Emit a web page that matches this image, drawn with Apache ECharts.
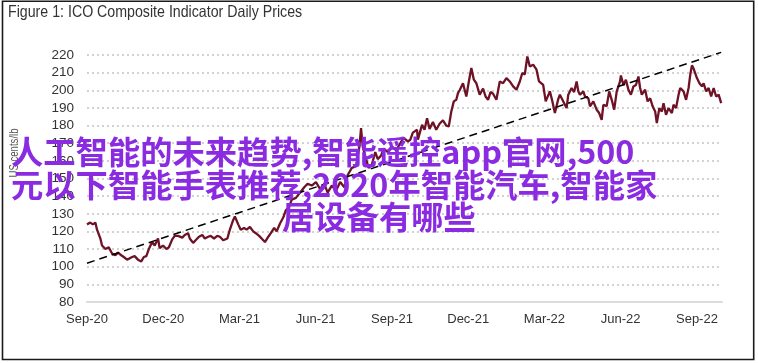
<!DOCTYPE html>
<html>
<head>
<meta charset="utf-8">
<script src="https://cdn.jsdelivr.net/npm/echarts@6/dist/echarts.min.js"></script>
<style>
html,body{margin:0;padding:0;background:#fff;}
#chart{width:758px;height:363px;}
</style>
</head>
<body>
<div id="chart"></div>
<script>
const titleText = 'Figure 1: ICO Composite Indicator Daily Prices';
const yAxisName = 'US cents/lb';
const tickLabels = ['Sep-20','Dec-20','Mar-21','Jun-21','Sep-21','Dec-21','Mar-22','Jun-22','Sep-22'];
const overlayLines = ['人工智能的未来趋势,智能遥控app官网,500','元以下智能手表推荐,2020年智能汽车,智能家','居设备有哪些'];

const dates = [
'2020-09-01','2020-09-05','2020-09-08','2020-09-11','2020-09-13','2020-09-17','2020-09-19','2020-09-23','2020-09-25','2020-09-27',
'2020-10-01','2020-10-05','2020-10-08','2020-10-12','2020-10-15','2020-10-19','2020-10-21','2020-10-25','2020-10-28',
'2020-11-01','2020-11-05','2020-11-08','2020-11-11','2020-11-14','2020-11-18','2020-11-21','2020-11-25','2020-11-27',
'2020-12-01','2020-12-05','2020-12-08','2020-12-12','2020-12-15','2020-12-19','2020-12-24','2020-12-27','2020-12-31',
'2021-01-02','2021-01-06','2021-01-09','2021-01-13','2021-01-17','2021-01-20','2021-01-24','2021-01-27','2021-01-31',
'2021-02-04','2021-02-07','2021-02-11','2021-02-16','2021-02-19','2021-02-23','2021-02-25',
'2021-03-01','2021-03-04','2021-03-08','2021-03-11','2021-03-15','2021-03-19','2021-03-22','2021-03-26','2021-03-29',
'2021-04-02','2021-04-06','2021-04-09','2021-04-13','2021-04-16','2021-04-20','2021-04-24','2021-04-27',
'2021-05-01','2021-05-04','2021-05-09','2021-05-14','2021-05-19','2021-05-23','2021-05-28',
'2021-06-02','2021-06-07','2021-06-12','2021-06-16','2021-06-21','2021-06-26',
'2021-07-01','2021-07-06','2021-07-10','2021-07-15','2021-07-20','2021-07-24','2021-07-26','2021-07-28',
'2021-08-01','2021-08-04','2021-08-08','2021-08-12','2021-08-15','2021-08-19','2021-08-22','2021-08-27',
'2021-09-01','2021-09-06','2021-09-11','2021-09-15','2021-09-20','2021-09-23','2021-09-26',
'2021-10-01','2021-10-02','2021-10-07','2021-10-10','2021-10-13','2021-10-16','2021-10-20','2021-10-24','2021-10-28',
'2021-11-01','2021-11-05','2021-11-08','2021-11-11','2021-11-14','2021-11-17','2021-11-19','2021-11-21','2021-11-25','2021-11-29',
'2021-12-02','2021-12-05','2021-12-08','2021-12-11','2021-12-15','2021-12-19','2021-12-22','2021-12-25','2021-12-28','2021-12-31',
'2022-01-04','2022-01-08','2022-01-12','2022-01-16','2022-01-20','2022-01-24','2022-01-28',
'2022-02-01','2022-02-04','2022-02-07','2022-02-10','2022-02-13','2022-02-17','2022-02-21','2022-02-24',
'2022-03-01','2022-03-04','2022-03-09','2022-03-12','2022-03-15','2022-03-19','2022-03-21','2022-03-27','2022-03-29','2022-03-31',
'2022-04-04','2022-04-07','2022-04-10','2022-04-12','2022-04-14','2022-04-18','2022-04-20','2022-04-24','2022-04-26','2022-04-30',
'2022-05-04','2022-05-07','2022-05-10','2022-05-12','2022-05-16','2022-05-19','2022-05-22','2022-05-25','2022-05-28',
'2022-06-01','2022-06-02','2022-06-05','2022-06-08','2022-06-11','2022-06-14','2022-06-17','2022-06-20','2022-06-23','2022-06-25','2022-06-27',
'2022-07-01','2022-07-04','2022-07-07','2022-07-10','2022-07-13','2022-07-15','2022-07-18','2022-07-21','2022-07-23','2022-07-26','2022-07-29',
'2022-08-02','2022-08-04','2022-08-07','2022-08-10','2022-08-12','2022-08-16','2022-08-19','2022-08-22','2022-08-24','2022-08-26','2022-08-28',
'2022-09-01','2022-09-04','2022-09-07','2022-09-09','2022-09-12','2022-09-15','2022-09-18','2022-09-21','2022-09-24','2022-09-27','2022-09-30'
];
const prices = [
124,125,124,125,121,116,112,110,109,111,
107.5,106.5,108,106.5,105.5,104,103.5,105.5,106,
104,103,105.5,106,110,114,112,116,110.5,
112,110,111,115.5,117.5,117.5,116.5,118,119,
116,113.5,115,117,118,116,117,117.5,116,
117.5,117,115,116,121,126.5,128.5,
124,121,122,121,122.5,120,119,117.5,116,
114,117,119,122,120,124.5,128,132,
134,138,139,142,145,147,146,
148,144,147,142,146,143,
148,145,152,156,157,168,178.5,168,
161,156,158,165,161,163,167,165,
168,166,170,173,171,172,176,
177.6,172,180.4,177.6,184.2,178,182,177.6,181,
183,180,179.5,188,193.7,194.6,198.4,200,204,196.5,
205,212.6,206,204,197.5,201,196.5,194.6,199,198,
194.6,205,204,206.9,205,202.2,200.3,
205,209.8,209,219.2,213.5,214.5,211.7,205,
203,193.7,199.4,193.7,187.1,195,197.5,191.8,189.9,197.5,
201.3,199,205,199.5,197.5,199.4,196.5,195.5,190.9,193.7,
189,187.1,183.3,191.8,191,199.4,194.6,189,199.4,
205,208.4,203,206,200.3,197.5,202.2,203,207.8,201.3,197.5,
200.3,193.7,195.5,190.9,188,181.4,189.9,188,192.7,186.1,189.9,
187.1,191.8,189.9,197.5,201.3,199.4,194.6,201.3,208.8,214.1,212.3,
206.9,204,202.2,204,199.4,201.3,196.5,201.3,196.5,197.5,192.7
];
const trendDates = ['2020-09-01','2022-09-30'];
const trendValues = [102, 221.5];

const startDate = '2020-09-01';
const dayOf = d => (Date.parse(d) - Date.parse(startDate)) / 86400000;
const priceData = dates.map((d, i) => [dayOf(d), prices[i]]);
const trendData = trendDates.map((d, i) => [dayOf(d), trendValues[i]]);
const Q = 91.25;

const labelFont = "'Liberation Sans',Arial,sans-serif";

const chart = echarts.init(document.getElementById('chart'), null, {renderer: 'canvas'});
chart.setOption({
  animation: false,
  backgroundColor: '#ffffff',
  grid: {left: 87, right: 36, top: 55, bottom: 61},
  xAxis: {
    type: 'value', min: 0, max: 760, interval: Q,
    axisLine: {show: true, lineStyle: {color: '#dcdcdc', width: 2}},
    axisTick: {show: false},
    splitLine: {show: false},
    axisLabel: {
      margin: 11, color: '#333', fontSize: 13, fontFamily: labelFont,
      formatter: v => { const k = Math.round(v / Q); return Math.abs(v - k * Q) < 0.01 && tickLabels[k] ? tickLabels[k] : ''; }
    }
  },
  yAxis: {
    type: 'value', min: 80, max: 220, interval: 10,
    axisLine: {show: false}, axisTick: {show: false},
    axisLabel: {margin: 13, color: '#333', fontSize: 13.5, fontFamily: labelFont},
    splitLine: {show: true, lineStyle: {color: '#c4c4c4', width: 1.5, type: [2, 3]}}
  },
  series: [
    {type: 'line', data: priceData, showSymbol: false, symbol: 'none',
     lineStyle: {color: '#6e1226', width: 2.3}, z: 3},
    {type: 'line', data: trendData, showSymbol: false, symbol: 'none', clip: false,
     lineStyle: {color: '#000', width: 1.5, type: [8, 5]}, z: 4}
  ],
  graphic: [
    {type: 'rect', shape: {x: 2.5, y: 1.3, width: 751.2, height: 358.2},
     style: {fill: 'none', stroke: '#1a1a1a', lineWidth: 1.6}, z: 100, silent: true},
    {type: 'text', x: 8, y: 12, scaleX: 0.86, z: 100,
     style: {text: titleText, fill: '#333', font: "16.5px 'Liberation Sans',Arial,sans-serif", verticalAlign: 'middle', align: 'left'}},
    {type: 'text', x: 15, y: 153, rotation: Math.PI / 2, scaleX: 0.8, z: 100,
     style: {text: yAxisName, fill: '#555', font: "12px 'Liberation Sans',Arial,sans-serif", verticalAlign: 'middle', align: 'center'}},
    {type: 'text', x: 11, y: 152, z: 200,
     style: {text: overlayLines[0], fill: '#8a2be2', font: "bold 32.3px 'Noto Sans CJK SC',sans-serif", verticalAlign: 'middle', align: 'left'}},
    {type: 'text', x: 11, y: 185, z: 200,
     style: {text: overlayLines[1], fill: '#8a2be2', font: "bold 32.3px 'Noto Sans CJK SC',sans-serif", verticalAlign: 'middle', align: 'left'}},
    {type: 'text', x: 282, y: 217, z: 200,
     style: {text: overlayLines[2], fill: '#8a2be2', font: "bold 32.3px 'Noto Sans CJK SC',sans-serif", verticalAlign: 'middle', align: 'left'}}
  ]
});
</script>
</body>
</html>
